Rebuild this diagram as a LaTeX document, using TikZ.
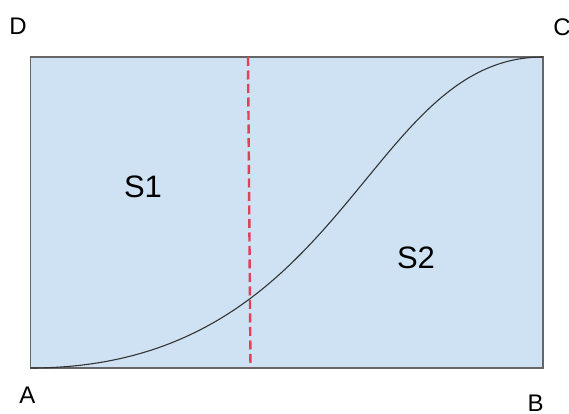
\documentclass[tikz,border=0pt]{standalone}
\usepackage{fontspec}
\setmainfont{Liberation Sans}
\usetikzlibrary{positioning}
\definecolor{areablue}{HTML}{CFE2F3}
\definecolor{edgegray}{HTML}{666666}
\definecolor{splitred}{HTML}{E0405A}
\tikzset{
  area box/.style={draw=edgegray,fill=areablue,line width=1.5pt},
  corner label/.style={inner sep=0pt,font=\fontsize{24}{24}\selectfont},
  area label/.style={inner sep=0pt,font=\fontsize{31}{31}\selectfont},
  bound curve/.style={draw=black!80,line width=1.1pt},
  split line/.style={splitred,line width=2.4pt,dash pattern=on 9pt off 4.5pt},
}

\begin{document}
\begin{tikzpicture}[x=1pt,y=-1pt]
  \useasboundingbox (0,0) rectangle (569,414);
  \coordinate (a) at (30.5,368);
  \coordinate (b) at (543,368);
  \coordinate (c) at (543,57);
  \coordinate (d) at (30.5,57);
  \draw[area box] (a) rectangle (c);
  \coordinate (top) at (248,57);
  \coordinate (bot) at (250.5,368);
  \draw[split line] (top)--(bot);
  \draw[bound curve] (a) .. controls (347,368) and (364.5,57) .. (c);
  \node[corner label] (la) at (27.5,395) {A};
  \node[corner label] (lb) at (535.5,403) {B};
  \node[corner label] (lc) at (562,27.5) {C};
  \node[corner label] (ld) at (18,26.5) {D};
  \node[area label] (s1) at (143,187) {S1};
  \node[area label] (s2) at (416,258) {S2};
\end{tikzpicture}
\end{document}
